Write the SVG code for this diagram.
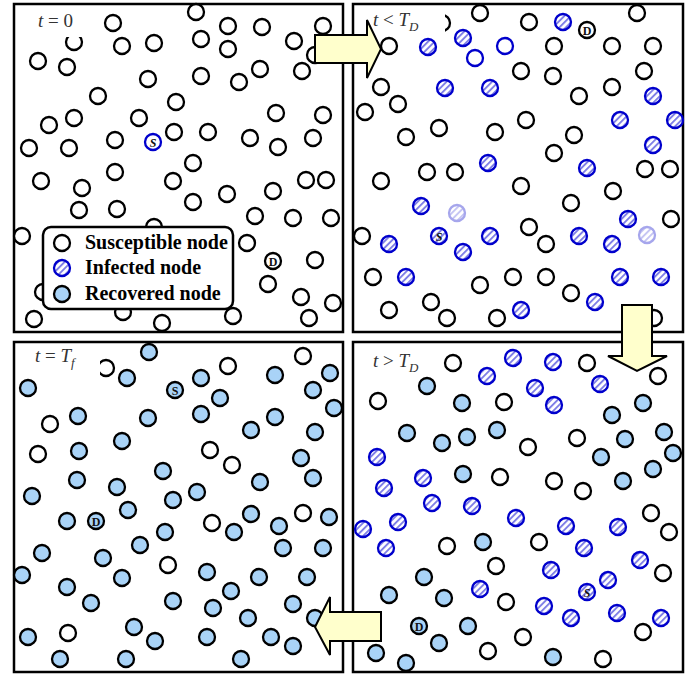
<svg xmlns="http://www.w3.org/2000/svg" width="699" height="677" viewBox="0 0 699 677">
<defs>
<pattern id="h" width="4.6" height="4.6" patternUnits="userSpaceOnUse" patternTransform="rotate(45)">
<rect width="4.6" height="4.6" fill="#fff"/><rect width="1.9" height="4.6" fill="#7f7fe6"/>
</pattern>
<style>
circle{stroke-width:2.3}
.s{fill:#fff;stroke:#000}
.i{fill:url(#h);stroke:#0000cc}
.r{fill:#a9d3f7;stroke:#000}
.e{fill:#fff;stroke:#0000cc}
.f{fill:url(#h);stroke:#3b3bd6;opacity:.45}
.frame{fill:#fff;stroke:#000;stroke-width:2.5}
.lab{font-family:"Liberation Serif","Times New Roman",serif;font-size:19px;fill:#333}
.it{font-style:italic}
.sd{font-family:"Liberation Serif","Times New Roman",serif;font-size:12px;font-weight:bold;fill:#111;text-anchor:middle}
.leg{font-family:"Liberation Serif","Times New Roman",serif;font-size:20px;font-weight:bold;fill:#000}
.arr{fill:#ffffcc;stroke:#000;stroke-width:2}
.wb{fill:#fff}
</style>
</defs>
<rect width="699" height="677" fill="#fff"/>

<g id="panel-t0">
<rect class="frame" x="14" y="4" width="329" height="328"/>
<g id="tl-nodes">
<circle class="s" cx="196" cy="12" r="8"/><circle class="s" cx="113" cy="23" r="8"/><circle class="s" cx="228" cy="26" r="8"/><circle class="s" cx="262" cy="27" r="8"/><circle class="s" cx="323" cy="26" r="8"/><circle class="s" cx="74" cy="42" r="8"/><circle class="s" cx="122" cy="46" r="8"/><circle class="s" cx="154" cy="43" r="8"/><circle class="s" cx="201" cy="39" r="8"/><circle class="s" cx="228" cy="49" r="8"/><circle class="s" cx="294" cy="41" r="8"/><circle class="s" cx="315" cy="55" r="8"/><circle class="s" cx="38" cy="61" r="8"/><circle class="s" cx="67" cy="67" r="8"/><circle class="s" cx="148" cy="79" r="8"/><circle class="s" cx="201" cy="76" r="8"/><circle class="s" cx="239" cy="82" r="8"/><circle class="s" cx="260" cy="69" r="8"/><circle class="s" cx="302" cy="71" r="8"/><circle class="s" cx="98" cy="96" r="8"/><circle class="s" cx="176" cy="102" r="8"/><circle class="s" cx="276" cy="113" r="8"/><circle class="s" cx="323" cy="115" r="8"/><circle class="s" cx="49" cy="125" r="8"/><circle class="s" cx="74" cy="118" r="8"/><circle class="s" cx="139" cy="118" r="8"/><circle class="s" cx="115" cy="140" r="8"/><circle class="s" cx="174" cy="132" r="8"/><circle class="s" cx="208" cy="132" r="8"/><circle class="s" cx="250" cy="138" r="8"/><circle class="s" cx="278" cy="147" r="8"/><circle class="s" cx="313" cy="138" r="8"/><circle class="s" cx="29" cy="148" r="8"/><circle class="s" cx="69" cy="148" r="8"/><circle class="s" cx="193" cy="163" r="8"/><circle class="s" cx="115" cy="172" r="8"/><circle class="s" cx="41" cy="181" r="8"/><circle class="s" cx="82" cy="188" r="8"/><circle class="s" cx="173" cy="181" r="8"/><circle class="s" cx="193" cy="202" r="8"/><circle class="s" cx="227" cy="194" r="8"/><circle class="s" cx="273" cy="191" r="8"/><circle class="s" cx="306" cy="180" r="8"/><circle class="s" cx="326" cy="180" r="8"/><circle class="s" cx="79" cy="210" r="8"/><circle class="s" cx="117" cy="209" r="8"/><circle class="s" cx="255" cy="216" r="8"/><circle class="s" cx="293" cy="218" r="8"/><circle class="s" cx="331" cy="218" r="8"/><circle class="s" cx="154" cy="227" r="8"/><circle class="s" cx="22" cy="236" r="8"/><circle class="s" cx="247" cy="243" r="8"/><circle class="s" cx="315" cy="260" r="8"/><circle class="s" cx="268" cy="284" r="8"/><circle class="s" cx="301" cy="297" r="8"/><circle class="s" cx="333" cy="303" r="8"/><circle class="s" cx="43" cy="292" r="8"/><circle class="s" cx="34" cy="319" r="8"/><circle class="s" cx="123" cy="312" r="8"/><circle class="s" cx="162" cy="323" r="8"/><circle class="s" cx="233" cy="316" r="8"/><circle class="s" cx="309" cy="318" r="8"/>
</g>
<g id="tl-S"><circle class="e" cx="153" cy="142" r="8"/><text class="sd it" x="153" y="146.5">S</text></g>
<g id="tl-D"><circle class="s" cx="273" cy="261" r="8"/><text class="sd" x="273" y="265.5">D</text></g>
<rect class="wb" x="18" y="6" width="72" height="31"/>
<text class="lab" x="38" y="27"><tspan class="it">t</tspan> = 0</text>
</g>

<g id="panel-tD-before">
<rect class="frame" x="353" y="4" width="330" height="328"/>
<g id="tr-nodes">
<circle class="s" cx="480" cy="13" r="8"/><circle class="s" cx="529" cy="22" r="8"/><circle class="s" cx="637" cy="13" r="8"/><circle class="s" cx="442" cy="23" r="8"/><circle class="s" cx="389" cy="46" r="8"/><circle class="s" cx="554" cy="46" r="8"/><circle class="s" cx="612" cy="46" r="8"/><circle class="s" cx="653" cy="46" r="8"/><circle class="s" cx="521" cy="71" r="8"/><circle class="s" cx="553" cy="76" r="8"/><circle class="s" cx="644" cy="71" r="8"/><circle class="s" cx="381" cy="87" r="8"/><circle class="s" cx="398" cy="104" r="8"/><circle class="s" cx="365" cy="112" r="8"/><circle class="s" cx="579" cy="96" r="8"/><circle class="s" cx="612" cy="87" r="8"/><circle class="s" cx="526" cy="120" r="8"/><circle class="s" cx="406" cy="137" r="8"/><circle class="s" cx="439" cy="128" r="8"/><circle class="s" cx="495" cy="132" r="8"/><circle class="s" cx="574" cy="135" r="8"/><circle class="s" cx="554" cy="153" r="8"/><circle class="s" cx="645" cy="169" r="8"/><circle class="s" cx="670" cy="169" r="8"/><circle class="s" cx="427" cy="172" r="8"/><circle class="s" cx="455" cy="172" r="8"/><circle class="s" cx="381" cy="181" r="8"/><circle class="s" cx="521" cy="186" r="8"/><circle class="s" cx="613" cy="191" r="8"/><circle class="s" cx="571" cy="203" r="8"/><circle class="s" cx="671" cy="219" r="8"/><circle class="s" cx="362" cy="236" r="8"/><circle class="s" cx="529" cy="227" r="8"/><circle class="s" cx="546" cy="244" r="8"/><circle class="s" cx="373" cy="277" r="8"/><circle class="s" cx="480" cy="285" r="8"/><circle class="s" cx="513" cy="277" r="8"/><circle class="s" cx="546" cy="277" r="8"/><circle class="s" cx="571" cy="293" r="8"/><circle class="s" cx="389" cy="310" r="8"/><circle class="s" cx="431" cy="302" r="8"/><circle class="s" cx="447" cy="318" r="8"/><circle class="s" cx="497" cy="318" r="8"/><circle class="s" cx="654" cy="318" r="8"/>
<circle class="i" cx="563" cy="22" r="8"/><circle class="i" cx="428" cy="47" r="8"/><circle class="i" cx="463" cy="38" r="8"/><circle class="i" cx="445" cy="88" r="8"/><circle class="i" cx="490" cy="88" r="8"/><circle class="i" cx="653" cy="96" r="8"/><circle class="i" cx="620" cy="120" r="8"/><circle class="i" cx="675" cy="120" r="8"/><circle class="i" cx="653" cy="145" r="8"/><circle class="i" cx="488" cy="163" r="8"/><circle class="i" cx="587" cy="168" r="8"/><circle class="i" cx="421" cy="206" r="8"/><circle class="i" cx="628" cy="219" r="8"/><circle class="i" cx="389" cy="244" r="8"/><circle class="i" cx="463" cy="252" r="8"/><circle class="i" cx="490" cy="236" r="8"/><circle class="i" cx="579" cy="236" r="8"/><circle class="i" cx="612" cy="244" r="8"/><circle class="i" cx="406" cy="277" r="8"/><circle class="i" cx="620" cy="277" r="8"/><circle class="i" cx="661" cy="277" r="8"/><circle class="i" cx="595" cy="302" r="8"/><circle class="i" cx="521" cy="310" r="8"/>
<circle class="e" cx="475" cy="58" r="8"/><circle class="e" cx="505" cy="46" r="8"/>
<circle class="f" cx="457" cy="213" r="8"/><circle class="f" cx="647" cy="235" r="8"/>
</g>
<g id="tr-S"><circle class="i" cx="439" cy="236" r="8"/><text class="sd it" x="439" y="240.5">S</text></g>
<g id="tr-D"><circle class="s" cx="587" cy="30" r="8"/><text class="sd" x="587" y="34.5">D</text></g>
<rect class="wb" x="370" y="6" width="75" height="30"/>
<text class="lab" x="373" y="26"><tspan class="it">t</tspan> &lt; <tspan class="it">T</tspan><tspan class="it" font-size="13" dy="5">D</tspan></text>
</g>

<g id="panel-tf">
<rect class="frame" x="14" y="342" width="329" height="330"/>
<g id="bl-nodes">
<circle class="r" cx="149" cy="352" r="8"/><circle class="r" cx="127" cy="378" r="8"/><circle class="r" cx="201" cy="378" r="8"/><circle class="r" cx="275" cy="375" r="8"/><circle class="r" cx="330" cy="373" r="8"/><circle class="r" cx="28" cy="388" r="8"/><circle class="r" cx="313" cy="390" r="8"/><circle class="r" cx="220" cy="398" r="8"/><circle class="r" cx="334" cy="408" r="8"/><circle class="r" cx="78" cy="416" r="8"/><circle class="r" cx="148" cy="418" r="8"/><circle class="r" cx="201" cy="414" r="8"/><circle class="r" cx="275" cy="417" r="8"/><circle class="r" cx="251" cy="430" r="8"/><circle class="r" cx="315" cy="432" r="8"/><circle class="r" cx="122" cy="441" r="8"/><circle class="r" cx="79" cy="451" r="8"/><circle class="r" cx="301" cy="458" r="8"/><circle class="r" cx="163" cy="471" r="8"/><circle class="r" cx="77" cy="480" r="8"/><circle class="r" cx="117" cy="487" r="8"/><circle class="r" cx="260" cy="482" r="8"/><circle class="r" cx="313" cy="478" r="8"/><circle class="r" cx="32" cy="496" r="8"/><circle class="r" cx="173" cy="500" r="8"/><circle class="r" cx="197" cy="492" r="8"/><circle class="r" cx="128" cy="510" r="8"/><circle class="r" cx="67" cy="521" r="8"/><circle class="r" cx="234" cy="532" r="8"/><circle class="r" cx="251" cy="514" r="8"/><circle class="r" cx="279" cy="526" r="8"/><circle class="r" cx="329" cy="517" r="8"/><circle class="r" cx="165" cy="532" r="8"/><circle class="r" cx="140" cy="545" r="8"/><circle class="r" cx="42" cy="553" r="8"/><circle class="r" cx="103" cy="558" r="8"/><circle class="r" cx="283" cy="548" r="8"/><circle class="r" cx="323" cy="548" r="8"/><circle class="r" cx="22" cy="575" r="8"/><circle class="r" cx="207" cy="572" r="8"/><circle class="r" cx="122" cy="578" r="8"/><circle class="r" cx="259" cy="577" r="8"/><circle class="r" cx="307" cy="577" r="8"/><circle class="r" cx="67" cy="587" r="8"/><circle class="r" cx="91" cy="603" r="8"/><circle class="r" cx="173" cy="601" r="8"/><circle class="r" cx="231" cy="591" r="8"/><circle class="r" cx="213" cy="608" r="8"/><circle class="r" cx="293" cy="604" r="8"/><circle class="r" cx="248" cy="618" r="8"/><circle class="r" cx="315" cy="618" r="8"/><circle class="r" cx="28" cy="637" r="8"/><circle class="r" cx="134" cy="627" r="8"/><circle class="r" cx="155" cy="641" r="8"/><circle class="r" cx="207" cy="637" r="8"/><circle class="r" cx="271" cy="637" r="8"/><circle class="r" cx="293" cy="646" r="8"/><circle class="r" cx="60" cy="659" r="8"/><circle class="r" cx="126" cy="659" r="8"/><circle class="r" cx="241" cy="659" r="8"/>
<circle class="s" cx="303" cy="356" r="8"/><circle class="s" cx="106" cy="368" r="8"/><circle class="s" cx="228" cy="366" r="8"/><circle class="s" cx="50" cy="424" r="8"/><circle class="s" cx="38" cy="454" r="8"/><circle class="s" cx="210" cy="450" r="8"/><circle class="s" cx="232" cy="465" r="8"/><circle class="s" cx="212" cy="523" r="8"/><circle class="s" cx="303" cy="513" r="8"/><circle class="s" cx="168" cy="565" r="8"/><circle class="s" cx="68" cy="633" r="8"/>
</g>
<g id="bl-S"><circle class="r" cx="175" cy="390" r="8"/><text class="sd" x="175" y="394.5">S</text></g>
<g id="bl-D"><circle class="r" cx="96" cy="521" r="8"/><text class="sd" x="96" y="525.5">D</text></g>
<rect class="wb" x="18" y="344" width="82" height="31"/>
<text class="lab" x="35" y="362"><tspan class="it">t</tspan> = <tspan class="it">T</tspan><tspan class="it" font-size="13" dy="5">f</tspan></text>
</g>

<g id="panel-tD-after">
<rect class="frame" x="353" y="342" width="330" height="330"/>
<g id="br-nodes">
<circle class="s" cx="453" cy="363" r="8"/><circle class="s" cx="587" cy="363" r="8"/><circle class="s" cx="658" cy="376" r="8"/><circle class="s" cx="378" cy="401" r="8"/><circle class="s" cx="504" cy="402" r="8"/><circle class="s" cx="528" cy="447" r="8"/><circle class="s" cx="577" cy="438" r="8"/><circle class="s" cx="500" cy="477" r="8"/><circle class="s" cx="554" cy="481" r="8"/><circle class="s" cx="583" cy="491" r="8"/><circle class="s" cx="651" cy="513" r="8"/><circle class="s" cx="669" cy="532" r="8"/><circle class="s" cx="447" cy="546" r="8"/><circle class="s" cx="539" cy="542" r="8"/><circle class="s" cx="663" cy="573" r="8"/><circle class="s" cx="496" cy="566" r="8"/><circle class="s" cx="506" cy="602" r="8"/><circle class="s" cx="523" cy="637" r="8"/><circle class="s" cx="643" cy="632" r="8"/><circle class="s" cx="488" cy="651" r="8"/><circle class="s" cx="603" cy="659" r="8"/>
<circle class="r" cx="427" cy="386" r="8"/><circle class="r" cx="462" cy="403" r="8"/><circle class="r" cx="612" cy="415" r="8"/><circle class="r" cx="643" cy="403" r="8"/><circle class="r" cx="407" cy="433" r="8"/><circle class="r" cx="442" cy="443" r="8"/><circle class="r" cx="467" cy="437" r="8"/><circle class="r" cx="497" cy="430" r="8"/><circle class="r" cx="625" cy="439" r="8"/><circle class="r" cx="664" cy="432" r="8"/><circle class="r" cx="601" cy="457" r="8"/><circle class="r" cx="673" cy="453" r="8"/><circle class="r" cx="463" cy="474" r="8"/><circle class="r" cx="623" cy="481" r="8"/><circle class="r" cx="653" cy="469" r="8"/><circle class="r" cx="483" cy="542" r="8"/><circle class="r" cx="424" cy="577" r="8"/><circle class="r" cx="389" cy="595" r="8"/><circle class="r" cx="444" cy="598" r="8"/><circle class="r" cx="468" cy="626" r="8"/><circle class="r" cx="439" cy="643" r="8"/><circle class="r" cx="376" cy="653" r="8"/><circle class="r" cx="406" cy="663" r="8"/><circle class="r" cx="553" cy="657" r="8"/>
<circle class="i" cx="513" cy="358" r="8"/><circle class="i" cx="553" cy="362" r="8"/><circle class="i" cx="487" cy="376" r="8"/><circle class="i" cx="535" cy="388" r="8"/><circle class="i" cx="600" cy="384" r="8"/><circle class="i" cx="554" cy="405" r="8"/><circle class="i" cx="377" cy="457" r="8"/><circle class="i" cx="423" cy="478" r="8"/><circle class="i" cx="384" cy="488" r="8"/><circle class="i" cx="432" cy="503" r="8"/><circle class="i" cx="472" cy="506" r="8"/><circle class="i" cx="363" cy="529" r="8"/><circle class="i" cx="398" cy="522" r="8"/><circle class="i" cx="386" cy="548" r="8"/><circle class="i" cx="516" cy="518" r="8"/><circle class="i" cx="566" cy="526" r="8"/><circle class="i" cx="584" cy="548" r="8"/><circle class="i" cx="618" cy="527" r="8"/><circle class="i" cx="640" cy="560" r="8"/><circle class="i" cx="551" cy="570" r="8"/><circle class="i" cx="608" cy="580" r="8"/><circle class="i" cx="480" cy="589" r="8"/><circle class="i" cx="544" cy="606" r="8"/><circle class="i" cx="571" cy="618" r="8"/><circle class="i" cx="617" cy="613" r="8"/><circle class="i" cx="661" cy="618" r="8"/>
</g>
<g id="br-S"><circle class="i" cx="587" cy="592" r="8"/><text class="sd it" x="587" y="596.5">S</text></g>
<g id="br-D"><circle class="r" cx="419" cy="626" r="8"/><text class="sd" x="419" y="630.5">D</text></g>
<text class="lab" x="373" y="367"><tspan class="it">t</tspan> &gt; <tspan class="it">T</tspan><tspan class="it" font-size="13" dy="5">D</tspan></text>
</g>

<g id="legend">
<rect x="43" y="227" width="190" height="82" rx="8" fill="#fff" stroke="#000" stroke-width="2.5"/>
<circle class="s" cx="62" cy="243" r="8"/>
<circle class="i" cx="62" cy="268" r="8"/>
<circle class="r" cx="62" cy="294" r="8"/>
<text class="leg" x="85" y="249">Susceptible node</text>
<text class="leg" x="85" y="274">Infected node</text>
<text class="leg" x="85" y="300">Recovered node</text>
</g>

<g id="connectors">
<polygon class="arr" points="315,35 367,35 367,20 381,49 367,78 367,63 315,63"/>
<polygon class="arr" points="622,305 652,305 652,356 667,356 637,371 608,356 622,356"/>
<polygon class="arr" points="381,612 330,612 330,597 315,627 330,655 330,641 381,641"/>
</g>
</svg>
